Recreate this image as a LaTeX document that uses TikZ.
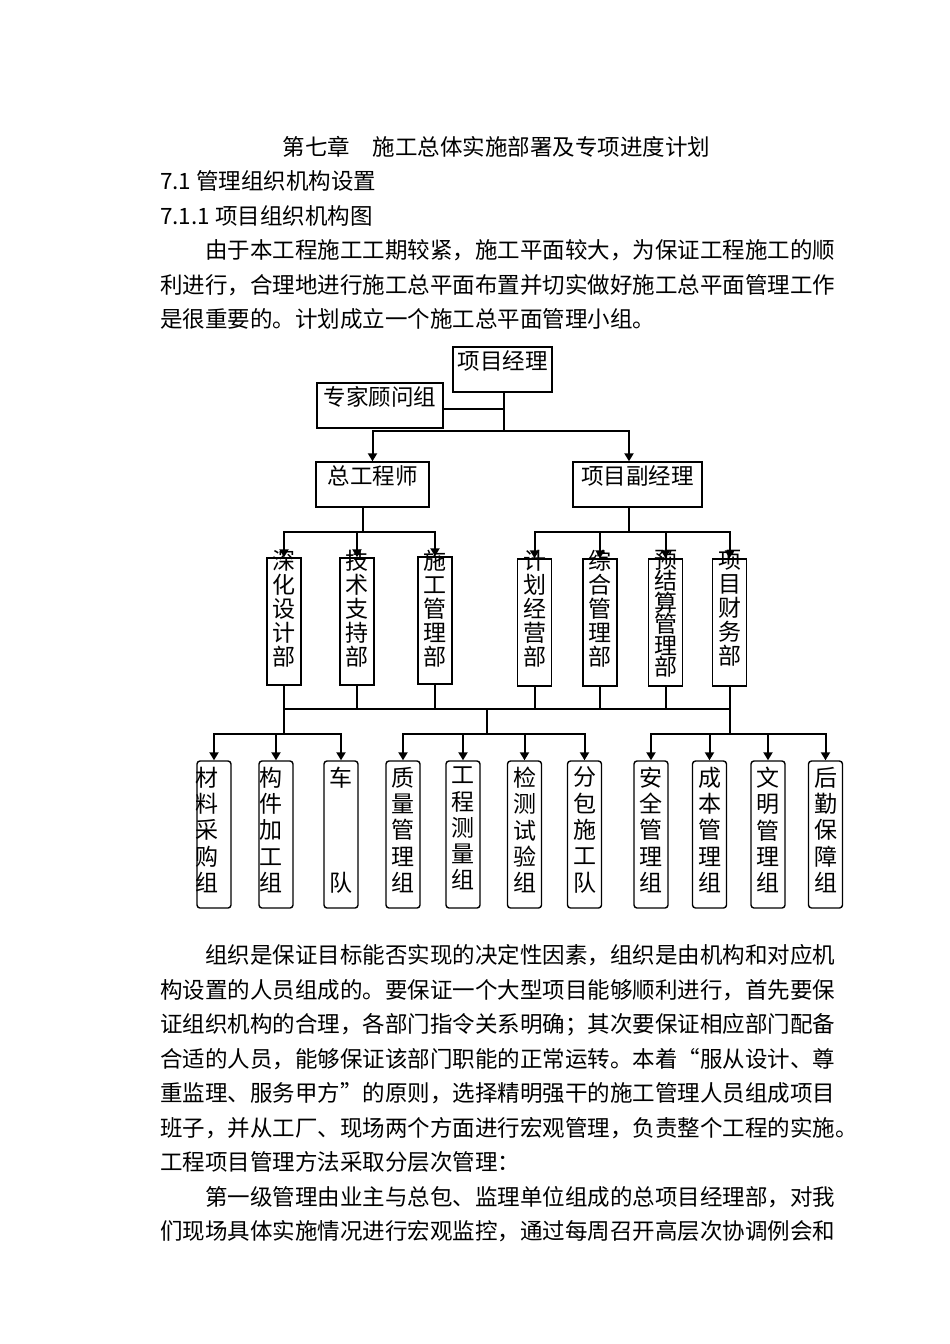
\documentclass[tikz,border=0pt]{standalone}
\usepackage{fontspec}
\setmainfont{Noto Sans CJK SC}
\usetikzlibrary{arrows.meta,positioning,calc}

% one justified body line, optional indent
\newcommand\jline[2][0pt]{\hbox to 675pt{\kern#1\expandafter\jchars#2\jstop}}
\def\jchars#1#2\jstop{#1\ifx\relax#2\relax\else\hfil\jchars#2\jstop\fi}

% characters stacked one above the other inside a tall box
\def\vlh{\hss}
\newcommand\vtext[4]{\vbox to #1{\hsize=34pt\baselineskip=#2\lineskiplimit=-100pt\lineskip=0pt
    \vskip#3\relax\expandafter\vcharlist#4\vcharstop\vfil}}
\def\vcharlist#1#2\vcharstop{\hbox to\hsize{\vlh#1\hss}\ifx\relax#2\relax\else\vcharlist#2\vcharstop\fi}

\tikzset{
    mgr/.style={rectangle, draw, line width=1.4pt, inner sep=0pt, text height=22.5pt, text depth=22.5pt, minimum height=45pt, font=\fontsize{22.5pt}{22.5pt}\selectfont},
    dept/.style={rectangle, draw, line width=1.4pt, inner sep=0pt, minimum width=34pt, minimum height=127pt, font=\fontsize{23pt}{24pt}\selectfont},
    grp/.style={rectangle, draw, rounded corners=3pt, line width=1.4pt, inner sep=0pt, minimum width=34pt, minimum height=147pt, font=\fontsize{23pt}{26pt}\selectfont},
    txt/.style={anchor=base west, inner sep=0pt, font=\fontsize{22.5pt}{34.5pt}\selectfont},
    conn/.style={draw, line width=2pt},
    line/.style={conn, -{Triangle[width=9pt,length=8pt]}}
}

\begin{document}
\begin{tikzpicture}[x=1pt, y=-1pt]
    \fill[white] (0,0) rectangle (950,1344);
    \useasboundingbox (0,0) rectangle (950,1344);

    % Heading and first paragraph
    \node[txt, anchor=base] (title) at (496.5,155.5) {第七章　施工总体实施部署及专项进度计划};
    \node[txt] (sec) at (160,189.9) {7.1 管理组织机构设置};
    \node[txt] (subsec) at (160,224.3) {7.1.1 项目组织机构图};
    \node[txt] (introa) at (160,258.7) {\jline[45pt]{由于本工程施工工期较紧，施工平面较大，为保证工程施工的顺}};
    \node[txt] (introb) at (160,293.1) {\jline{利进行，合理地进行施工总平面布置并切实做好施工总平面管理工作}};
    \node[txt] (introc) at (160,327.5) {是很重要的。计划成立一个施工总平面管理小组。};

    % Management
    \node[mgr, minimum width=99pt] (pm) at (502.5,369.5) {项目经理};
    \node[mgr, minimum width=126pt] (expert) at (380,405.5) {专家顾问组};
    \node[mgr, minimum width=113pt] (chief) at (372.5,484.5) {总工程师};
    \node[mgr, minimum width=129pt] (deputy) at (637.5,484.5) {项目副经理};

    % Departments
    \node[dept] (deepen) at (284,621.5) {\vtext{127pt}{24pt}{-8pt}{深化设计部}};
    \node[dept] (tech) at (357,621.5) {\vtext{127pt}{24pt}{-8pt}{技术支持部}};
    \node[dept] (constr) at (435,620.5) {\vtext{127pt}{24pt}{-7pt}{施工管理部}};
    \node[dept] (plan) at (534.5,622.5) {\vtext{127pt}{24pt}{-9pt}{计划经营部}};
    \node[dept] (general) at (600,622.5) {\vtext{127pt}{24pt}{-9pt}{综合管理部}};
    \node[dept] (budget) at (665.5,622.5) {\vtext{127pt}{21.5pt}{-9pt}{预结算管理部}};
    \node[dept] (finance) at (729.5,622.5) {\vtext{127pt}{24pt}{-9pt}{项目财务部}};

    % Working groups
    \node[grp] (material) at (214,834.5) {\def\vlh{\kern-2pt}\vtext{147pt}{26.3pt}{6pt}{材料采购组}};
    \node[grp] (parts) at (276,834.5) {\def\vlh{}\vtext{147pt}{26.3pt}{6pt}{构件加工组}};
    \node[grp] (fleet) at (341,834.5) {\vtext{147pt}{26.3pt}{6pt}{车~~~队}};
    \node[grp] (quality) at (403,834.5) {\vtext{147pt}{26.3pt}{6pt}{质量管理组}};
    \node[grp] (survey) at (463,834.5) {\vtext{147pt}{26.3pt}{6pt}{工程测量组}};
    \node[grp] (testing) at (524.5,834.5) {\vtext{147pt}{26.3pt}{6pt}{检测试验组}};
    \node[grp] (subcon) at (584.5,834.5) {\vtext{147pt}{26.3pt}{6pt}{分包施工队}};
    \node[grp] (safety) at (651,834.5) {\vtext{147pt}{26.3pt}{6pt}{安全管理组}};
    \node[grp] (cost) at (709.5,834.5) {\vtext{147pt}{26.3pt}{6pt}{成本管理组}};
    \node[grp] (civil) at (768,834.5) {\vtext{147pt}{26.3pt}{6pt}{文明管理组}};
    \node[grp] (logistics) at (825.5,834.5) {\vtext{147pt}{26.3pt}{6pt}{后勤保障组}};

    % Connections
    \coordinate (pmjoin) at (503.5,431);
    \coordinate (chiefjoin) at (363,532);
    \coordinate (deputyjoin) at (629,532);
    \path [conn] (pmjoin |- pm.south) -- (pmjoin);
    \path [conn] ([yshift=-3.5pt]expert.east) -- ([yshift=-3.5pt]expert.east -| pmjoin);
    \path [line] (pmjoin) -| (chief.north);
    \path [line] (pmjoin) -| (deputyjoin |- deputy.north);
    \path [conn] (chiefjoin |- chief.south) -- (chiefjoin);
    \path [conn] (deputyjoin |- deputy.south) -- (deputyjoin);
    \path [line] (chiefjoin) -| (deepen.north);
    \path [line] (chiefjoin) -| (tech.north);
    \path [line] (chiefjoin) -| (constr.north);
    \path [line] (deputyjoin) -| (plan.north);
    \path [line] (deputyjoin) -| (general.north);
    \path [line] (deputyjoin) -| (budget.north);
    \path [line] (deputyjoin) -| (finance.north);

    % Lower connections
    \coordinate (deptbar) at (487,709);
    \coordinate (leftjoin) at (284,734);
    \coordinate (midjoin) at (487,734);
    \coordinate (rightjoin) at (729.5,734);
    \path [conn] (deepen.south) -- (deepen.south |- deptbar);
    \path [conn] (tech.south) -- (tech.south |- deptbar);
    \path [conn] (constr.south) -- (constr.south |- deptbar);
    \path [conn] (plan.south) -- (plan.south |- deptbar);
    \path [conn] (general.south) -- (general.south |- deptbar);
    \path [conn] (budget.south) -- (budget.south |- deptbar);
    \path [conn] (finance.south) -- (finance.south |- deptbar);
    \path [conn] (deepen.south |- deptbar) -- (finance.south |- deptbar);
    \path [conn] (deepen.south |- deptbar) -- (leftjoin);
    \path [conn] (deptbar) -- (midjoin);
    \path [conn] (finance.south |- deptbar) -- (rightjoin);
    \path [line] (leftjoin) -| (material.north);
    \path [line] (leftjoin) -| (parts.north);
    \path [line] (leftjoin) -| (fleet.north);
    \path [line] (midjoin) -| (quality.north);
    \path [line] (midjoin) -| (survey.north);
    \path [line] (midjoin) -| (testing.north);
    \path [line] (midjoin) -| (subcon.north);
    \path [line] (rightjoin) -| (safety.north);
    \path [line] (rightjoin) -| (cost.north);
    \path [line] (rightjoin) -| (civil.north);
    \path [line] (rightjoin) -| (logistics.north);

    % Closing paragraphs
    \node[txt] (orga) at (160,963.5) {\jline[45pt]{组织是保证目标能否实现的决定性因素，组织是由机构和对应机}};
    \node[txt] (orgb) at (160,998) {\jline{构设置的人员组成的。要保证一个大型项目能够顺利进行，首先要保}};
    \node[txt] (orgc) at (160,1032.5) {\jline{证组织机构的合理，各部门指令关系明确；其次要保证相应部门配备}};
    \node[txt] (orgd) at (160,1067) {\jline{合适的人员，能够保证该部门职能的正常运转。本着“服从设计、尊}};
    \node[txt] (orge) at (160,1101.5) {\jline{重监理、服务甲方”的原则，选择精明强干的施工管理人员组成项目}};
    \node[txt] (orgf) at (160,1136) {\jline{班子，并从工厂、现场两个方面进行宏观管理，负责整个工程的实施。}};
    \node[txt] (orgg) at (160,1170.5) {工程项目管理方法采取分层次管理：};
    \node[txt] (levela) at (160,1205) {\jline[45pt]{第一级管理由业主与总包、监理单位组成的总项目经理部，对我}};
    \node[txt] (levelb) at (160,1239.5) {\jline{们现场具体实施情况进行宏观监控，通过每周召开高层次协调例会和}};
\end{tikzpicture}
\end{document}
